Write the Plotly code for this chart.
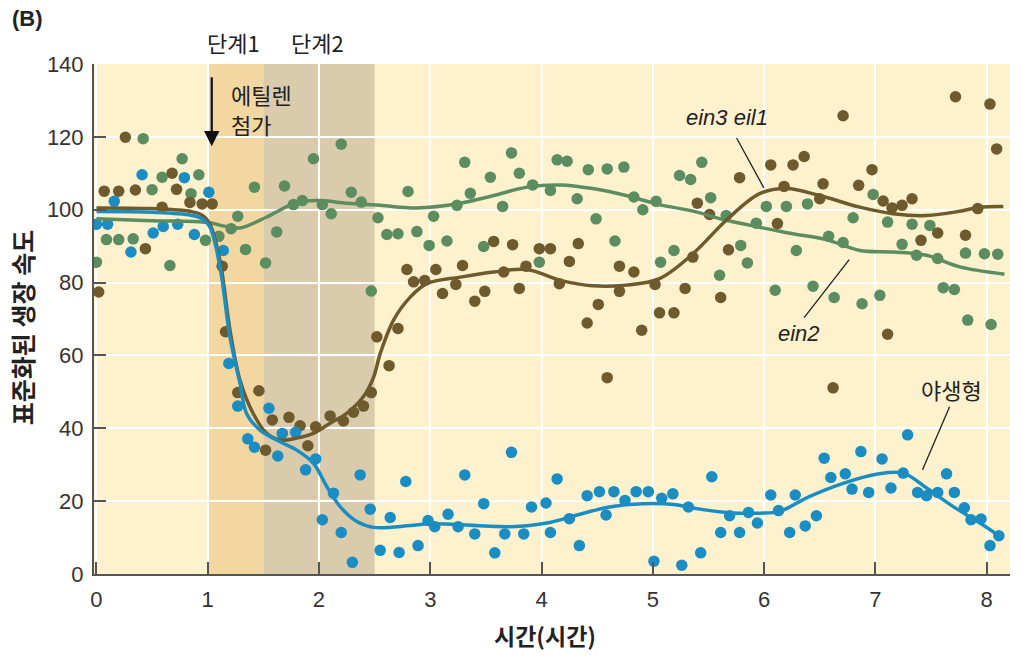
import plotly.graph_objects as go

# ---------------- data ----------------
wt_x = [0.0,0.1,0.16,0.31,0.41,0.51,0.6,0.73,0.79,0.88,1.01,1.14,1.19,1.27,1.36,1.42,1.55,1.63,1.67,1.79,1.88,1.97,2.03,2.13,2.2,2.3,2.37,2.46,2.55,2.64,2.72,2.78,2.89,2.98,3.04,3.16,3.25,3.31,3.4,3.48,3.58,3.67,3.73,3.84,3.91,4.04,4.08,4.14,4.25,4.34,4.41,4.52,4.58,4.65,4.75,4.85,4.96,5.01,5.08,5.18,5.26,5.32,5.43,5.53,5.61,5.69,5.78,5.86,5.94,6.06,6.13,6.23,6.28,6.37,6.47,6.54,6.6,6.73,6.79,6.87,6.94,7.06,7.14,7.25,7.29,7.38,7.46,7.56,7.64,7.71,7.8,7.86,7.95,8.03,8.11]
wt_y = [96,96,102.3,88.4,109.6,93.6,95.4,96,108.8,93.2,104.8,88.8,57.8,46.1,37.1,34.8,45.5,32.4,38.6,38.9,28.6,31.6,14.9,22.2,11.4,3.2,27.2,17.8,6.5,15.5,5.9,25.4,7.8,14.7,13,16.4,13,27.2,11,19.3,5.8,11,33.4,11,18.4,19.5,11.4,26.1,15.2,7.8,21.5,22.6,16.2,22.6,20.2,22.6,22.6,3.5,20.8,22,2.4,18.4,5.8,26.7,11.4,16,11.4,16.9,14,21.7,17.4,11.4,21.7,13.2,16,31.8,26.5,27.5,23.3,33.6,22.4,31.6,23.6,27.7,38.2,22.4,21.5,22.4,27.5,22.4,18.2,14.9,15.1,7.8,10.5]

ein3_x = [0.02,0.07,0.2,0.26,0.35,0.44,0.59,0.68,0.72,0.84,0.95,1.04,1.13,1.16,1.27,1.46,1.52,1.58,1.73,1.83,1.9,1.97,2.1,2.22,2.31,2.4,2.47,2.52,2.63,2.71,2.79,2.85,2.95,3.05,3.11,3.23,3.29,3.4,3.49,3.57,3.66,3.74,3.8,3.86,3.98,4.08,4.16,4.25,4.33,4.41,4.51,4.59,4.7,4.7,4.83,4.9,5.02,5.06,5.19,5.29,5.36,5.4,5.51,5.61,5.68,5.78,6.06,6.12,6.18,6.26,6.36,6.5,6.53,6.62,6.71,6.85,6.97,7.07,7.11,7.15,7.24,7.33,7.41,7.56,7.72,7.81,7.92,8.03,8.09]
ein3_y = [77.4,105.1,105.1,119.9,105.4,89.3,100.7,110,105.6,102,101.6,101.6,84.5,66.5,49.8,50.3,34,42.3,43,40.7,35.2,40.4,43.4,42,44.4,46.1,49.8,65.1,57.2,67.4,83.6,80.2,80.6,83.6,77,79.5,84.7,74.9,77.6,91.3,82.9,90.4,78.4,84.5,89.3,89.3,79.7,85.8,90.7,68.9,74,53.9,84.5,77.6,82.9,66.9,79.5,71.7,71.7,78.4,87,101.8,98.7,75.9,89,108.8,112.3,96.2,106.4,112.3,114.6,103,107.1,51.1,125.8,106.7,111,102.4,65.8,100.5,101.2,103,91.6,93.6,131,93,100.3,129,116.7]

ein2_x = [0.0,0.09,0.2,0.33,0.42,0.5,0.59,0.66,0.77,0.85,0.92,0.98,1.1,1.21,1.27,1.34,1.42,1.52,1.62,1.69,1.77,1.85,1.95,2.03,2.11,2.2,2.29,2.38,2.47,2.53,2.61,2.71,2.8,2.88,2.99,3.03,3.15,3.24,3.31,3.36,3.48,3.54,3.65,3.73,3.8,3.92,3.98,4.08,4.14,4.23,4.32,4.42,4.49,4.59,4.66,4.74,4.83,4.91,5.03,5.07,5.19,5.24,5.34,5.44,5.52,5.6,5.66,5.79,5.85,5.93,6.02,6.1,6.2,6.29,6.39,6.44,6.58,6.63,6.71,6.8,6.88,6.98,7.04,7.11,7.24,7.33,7.37,7.49,7.56,7.61,7.71,7.81,7.83,7.98,8.04,8.1]
ein2_y = [85.6,91.8,91.8,92,119.5,105.5,108.9,84.7,114,104.4,109.6,91.6,92.7,94.8,98.2,89.1,106.2,85.4,93.9,106.5,101.4,102.5,114,101.4,98.9,118,104.8,102.1,77.7,97.8,93.2,93.4,105,94,90.2,98.2,91.4,101.2,113,104.5,89.9,108.9,100.9,115.6,110,106.8,85.6,105.3,113.7,113.3,103,111,97.5,111.2,91.4,111.7,103.5,100,102.3,85.6,88.8,109.4,108.3,113,103.3,82,98.4,90.2,85.4,96.3,100.9,77.9,100.9,88.8,101.6,79,92.7,75.9,91,97.8,74.2,104.2,76.5,96.6,90.5,96,87.5,95.7,86.6,78.6,78.1,88.1,69.7,87.9,68.5,87.8]

# fitted curves (knots)
wt_fit_x = [0,0.5,0.85,0.95,1.02,1.11,1.2,1.29,1.35,1.47,1.65,1.8,1.95,2.07,2.19,2.34,2.49,2.82,3.0,3.72,4.05,4.32,4.61,4.91,5.21,5.36,5.66,5.96,6.14,6.41,6.71,7.01,7.25,7.46,7.7,7.94,8.11]
wt_fit_y = [99.5,99.3,98.5,97.5,95.2,84.3,65,52.3,44,39.5,36.3,34,30.4,24,18.5,14.4,12.8,13.3,13.8,13,14,16.2,18.4,19.3,19,18.1,16.9,16.7,17.2,21.3,24.9,27.4,27.7,23.6,18.5,14,10.5]

ein3_fit_x = [0,0.5,0.85,0.95,1.02,1.11,1.2,1.29,1.41,1.53,1.65,1.8,1.95,2.1,2.25,2.4,2.49,2.55,2.67,2.82,2.97,3.27,3.57,3.87,4.17,4.46,4.76,5.06,5.36,5.66,5.96,6.2,6.5,6.86,7.16,7.46,7.76,7.94,8.15]
ein3_fit_y = [100.5,100.3,99.5,98.5,96,86,67,53.2,44,38.6,36.8,37.3,38.6,41.4,44.1,48.7,54,60.5,69.7,76,79.7,81.5,82.9,83.6,80.6,79.1,79.3,81.1,87.9,97.1,104.4,105.8,103.9,100.7,98.9,98.4,99.6,100.7,100.9]

ein2_fit_x = [0,0.5,1.0,1.15,1.29,1.53,1.77,1.98,2.25,2.55,2.88,3.27,3.57,3.87,4.17,4.46,4.76,5.06,5.36,5.66,5.96,6.26,6.56,6.86,7.16,7.46,7.76,8.16]
ein2_fit_y = [97.5,97,96.5,95.5,95,98,101.6,102.5,101.8,101.2,100.5,101.8,103.9,106.2,106.8,105.8,103.9,101.4,99.6,97.1,95.2,93.4,91.8,88.8,88.4,87.5,84.3,82.3]

stages = [("단계1", 1.0, 1.5), ("단계2", 1.5, 2.5)]
x_ticks = [0, 1, 2, 3, 4, 5, 6, 7, 8]
y_ticks = [0, 20, 40, 60, 80, 100, 120, 140]

# ---------------- styling ----------------
BLUE = "#1A8DC3"
BROWN = "#6E5A2C"
GREEN = "#5B8D60"
BG = "#FDF1CE"
STAGE_COL = ["#F3D7A0", "#D9CBAB"]
KFONT = "Noto Sans CJK KR"
NUMFONT = "Liberation Sans Narrow, Liberation Sans, sans-serif"
TXT = "#222"

fig = go.Figure()

for xs, ys, col in [(ein2_x, ein2_y, GREEN), (ein3_x, ein3_y, BROWN), (wt_x, wt_y, BLUE)]:
    fig.add_trace(go.Scatter(x=xs, y=ys, mode="markers",
                             marker=dict(size=11.5, color=col, line=dict(width=0)),
                             showlegend=False, hoverinfo="skip"))

for xs, ys, col in [(ein2_fit_x, ein2_fit_y, GREEN), (ein3_fit_x, ein3_fit_y, BROWN), (wt_fit_x, wt_fit_y, BLUE)]:
    fig.add_trace(go.Scatter(x=xs, y=ys, mode="lines",
                             line=dict(color=col, width=3.5, shape="spline", smoothing=1.0),
                             showlegend=False, hoverinfo="skip"))

# stage shading and labels
stage_label_x = [1.236, 1.987]
for (name, x0, x1), c, lx in zip(stages, STAGE_COL, stage_label_x):
    fig.add_shape(type="rect", xref="x", yref="paper", x0=x0, x1=x1, y0=0, y1=1,
                  fillcolor=c, line=dict(width=0), layer="below")
    fig.add_annotation(x=lx, xref="x", y=1.0437, yref="paper", yanchor="middle",
                       text=name, showarrow=False,
                       font=dict(family=KFONT, size=22, color=TXT))

# ethylene arrow
fig.add_annotation(x=1.036, y=117.4, ax=1.036, ay=136.8, xref="x", yref="y", axref="x", ayref="y",
                   text="", showarrow=True, arrowhead=2, arrowsize=1.4, arrowwidth=2.2, arrowcolor="#111")
fig.add_annotation(x=1.19, y=131.8, xref="x", yref="y", text="에틸렌", showarrow=False,
                   xanchor="left", yanchor="middle", font=dict(family=KFONT, size=22, color=TXT))
fig.add_annotation(x=1.19, y=123.6, xref="x", yref="y", text="첨가", showarrow=False,
                   xanchor="left", yanchor="middle", font=dict(family=KFONT, size=22, color=TXT))

# series labels with leader lines
labels = [
    ("<i>ein3 eil1</i>", 5.669, 125.2, 22, (5.753, 119.7, 5.998, 106.0)),
    ("<i>ein2</i>", 6.314, 66.1, 22, (6.36, 70.4, 6.765, 86.3)),
    ("야생형", 7.685, 50.0, 22, (7.667, 45.9, 7.424, 28.6)),
]
for txt, tx, ty, fs, (lx0, ly0, lx1, ly1) in labels:
    fig.add_annotation(x=tx, y=ty, xref="x", yref="y", text=txt, showarrow=False,
                       xanchor="center", yanchor="middle",
                       font=dict(family="Liberation Sans, " + KFONT, size=fs, color=TXT))
    fig.add_shape(type="line", xref="x", yref="y", x0=lx0, y0=ly0, x1=lx1, y1=ly1,
                  line=dict(color="#222", width=1.3))

# panel letter and axis titles
fig.add_annotation(x=-0.0731, y=1.090, xref="paper", yref="paper", xanchor="center", yanchor="middle",
                   text="<b>(B)</b>", showarrow=False,
                   font=dict(family="Liberation Sans", size=22, color=TXT))
fig.add_annotation(x=-0.0786, y=0.482, xref="paper", yref="paper", xanchor="center", yanchor="middle",
                   text="<b>표준화된 생장 속도</b>", textangle=-90, showarrow=False,
                   font=dict(family=KFONT, size=25, color=TXT))
fig.add_annotation(x=0.4924, y=-0.1196, xref="paper", yref="paper", xanchor="center", yanchor="middle",
                   text="<b>시간(시간)</b>", showarrow=False,
                   font=dict(family=KFONT, size=23, color=TXT))

axis_common = dict(showgrid=True, gridcolor="white", gridwidth=2, zeroline=False,
                   showline=True, linecolor="#555", linewidth=2,
                   ticks="inside", ticklen=12, tickwidth=1.5, tickcolor="#555",
                   tickfont=dict(family=NUMFONT, size=22, color="#333"))

fig.update_xaxes(range=[-0.022, 8.21], tickvals=x_ticks, ticktext=[str(v) for v in x_ticks],
                 ticklabelstandoff=5, **axis_common)
fig.update_yaxes(range=[0, 140], tickvals=y_ticks, ticktext=[str(v) for v in y_ticks],
                 ticklabelstandoff=4, **axis_common)

fig.update_layout(width=1023, height=659, margin=dict(l=94, r=13, t=64, b=85),
                  plot_bgcolor=BG, paper_bgcolor="white", showlegend=False)

fig.write_html("out.html")
